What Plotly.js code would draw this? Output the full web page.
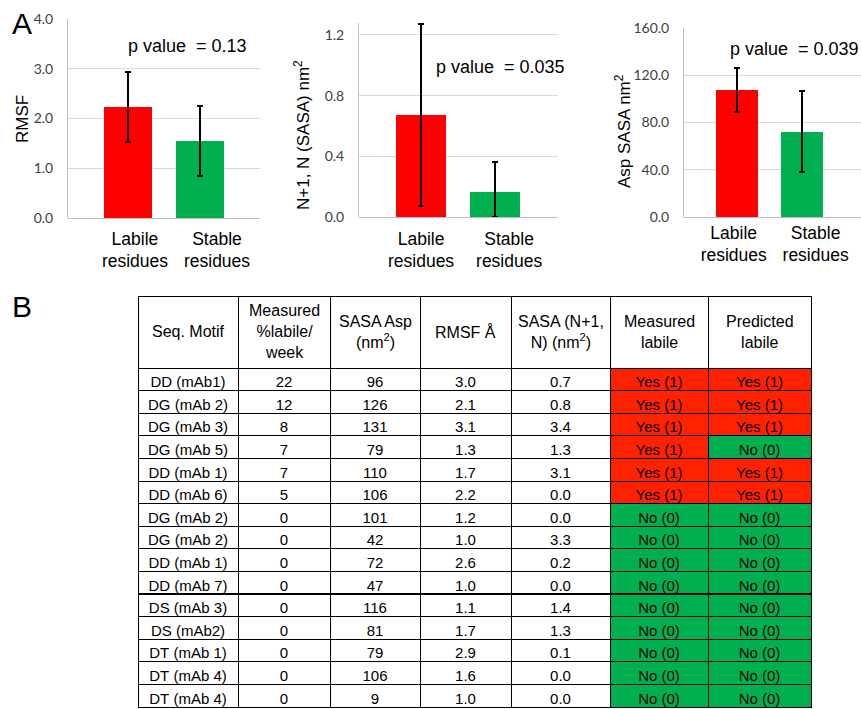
<!DOCTYPE html>
<html><head><meta charset="utf-8">
<script src="https://cdn.plot.ly/plotly-3.0.1.min.js"></script>
<style>html,body{margin:0;padding:0;background:#fff;}#chart{width:861px;height:709px;}</style>
</head><body><div id="chart"></div>
<script>
// ---- Panel A data ----
const groups = ["Labile", "Stable"];
const groupLabels = ["Labile<br>residues", "Stable<br>residues"];
const rmsfMean = [2.23, 1.55];
const rmsfErr = [0.70, 0.70];
const nSasaMean = [0.67, 0.165];
const nSasaErrPlus = [0.60, 0.20];
const nSasaErrMinus = [0.60, 0.165];
const aspSasaMean = [107.5, 72.2];
const aspSasaErr = [19.0, 34.5];
const pValues = ["0.13", "0.035", "0.039"];
const barColors = ["#FF0000", "#00B050"];

// ---- Panel B table data ----
const headers = ["Seq. Motif", "Measured<br>%labile/<br>week", "SASA Asp<br>(nm<sup>2</sup>)", "RMSF Å", "SASA (N+1,<br>N) (nm<sup>2</sup>)", "Measured<br>labile", "Predicted<br>labile"];
const motifs = ["DD (mAb1)", "DG (mAb 2)", "DG (mAb 3)", "DG (mAb 5)", "DD (mAb 1)", "DD (mAb 6)", "DG (mAb 2)", "DG (mAb 2)", "DD (mAb 1)", "DD (mAb 7)", "DS (mAb 3)", "DS (mAb2)", "DT (mAb 1)", "DT (mAb 4)", "DT (mAb 4)"];
const pctLabile = [22, 12, 8, 7, 7, 5, 0, 0, 0, 0, 0, 0, 0, 0, 0];
const sasaAsp = [96, 126, 131, 79, 110, 106, 101, 42, 72, 47, 116, 81, 79, 106, 9];
const rmsfVals = ["3.0", "2.1", "3.1", "1.3", "1.7", "2.2", "1.2", "1.0", "2.6", "1.0", "1.1", "1.7", "2.9", "1.6", "1.0"];
const sasaN = ["0.7", "0.8", "3.4", "1.3", "3.1", "0.0", "0.0", "3.3", "0.2", "0.0", "1.4", "1.3", "0.1", "0.0", "0.0"];
const measuredLabile = [1, 1, 1, 1, 1, 1, 0, 0, 0, 0, 0, 0, 0, 0, 0];
const predictedLabile = [1, 1, 1, 0, 1, 1, 0, 0, 0, 0, 0, 0, 0, 0, 0];

const W = 861, H = 709;
const px = v => v / W;
const py = v => 1 - v / H;

const tickFont = {family: "Lato, 'Open Sans', sans-serif", size: 14, color: "#404040"};
const labFont = {family: "'Liberation Sans', Arial, sans-serif", size: 17.5, color: "#000"};
const titleFont = {family: "'Liberation Sans', Arial, sans-serif", size: 17, color: "#000"};
const pFont = {family: "'Liberation Sans', Arial, sans-serif", size: 18, color: "#000"};

const groupIdx = groups.map((g, i) => i);

function barTrace(xa, ya, y, ePlus, eMinus, width) {
  return {
    type: "bar", x: groupIdx, y: y, xaxis: xa, yaxis: ya, width: width,
    marker: {color: barColors, line: {width: 0}},
    error_y: {type: "data", array: ePlus, arrayminus: eMinus, symmetric: false, color: "#000", thickness: 2, width: 3},
    showlegend: false, hoverinfo: "skip"
  };
}

const nb = s => String(s).replace(/ /g, "\u00A0");
const yn = v => nb(v ? "Yes (1)" : "No (0)");
const fillOf = v => v ? "#FF2200" : "#00B050";
const white = motifs.map(() => "#FFFFFF");

// table geometry (paper pixels)
const tableLeft = 138, tableRight = 811, tableTop = 296, headerH = 72, rowH = 22.6;
const colW = [100, 92, 90, 91, 99, 98, 103];

const traces = [
  barTrace("x", "y", rmsfMean, rmsfErr, rmsfErr, 0.667),
  barTrace("x2", "y2", nSasaMean, nSasaErrPlus, nSasaErrMinus, 0.676),
  barTrace("x3", "y3", aspSasaMean, aspSasaErr, aspSasaErr, 0.66),
  {
    type: "table",
    domain: {x: [px(tableLeft), px(tableRight)], y: [0, py(tableTop)]},
    columnwidth: colW,
    header: {
      values: headers.map(() => ""),
      height: headerH,
      align: "center",
      line: {color: "#000", width: 1},
      fill: {color: "#FFFFFF"},
      font: {family: "'Liberation Sans', Arial, sans-serif", size: 16, color: "#000"}
    },
    cells: {
      values: [motifs.map(nb), pctLabile, sasaAsp, rmsfVals, sasaN, measuredLabile.map(yn), predictedLabile.map(yn)],
      height: rowH,
      align: "center",
      line: {color: "#000", width: 1},
      fill: {color: [white, white, white, white, white, measuredLabile.map(fillOf), predictedLabile.map(fillOf)]},
      font: {family: "'Liberation Sans', Arial, sans-serif", size: 15, color: "#000"}
    }
  }
];

// label offsets (in category units) so the two-line labels sit as in the original
function xax(d, r, standoff, labelPos) {
  return {domain: d, range: r, type: "linear", showgrid: false, zeroline: false, showline: false,
    tickmode: "array", tickvals: labelPos, ticktext: groupLabels, tickfont: labFont, ticks: "", tickangle: 0,
    ticklabelstandoff: standoff, fixedrange: true};
}
function yax(d, r, dt, fmt, anchor) {
  return {domain: d, range: r, dtick: dt, tick0: 0, tickformat: fmt, showgrid: true, gridcolor: "#D9D9D9", gridwidth: 1,
    zeroline: true, zerolinecolor: "#BFBFBF", zerolinewidth: 1,
    showline: true, linecolor: "#BFBFBF", linewidth: 1, tickfont: tickFont, ticks: "", ticklabelstandoff: 11, anchor: anchor, fixedrange: true};
}

// header annotations centred in each table column
const headerAnn = [];
let cx = tableLeft;
headers.forEach((h, i) => {
  headerAnn.push({text: h, x: px(cx + colW[i] / 2), y: py(tableTop + headerH / 2), xref: "paper", yref: "paper",
    xanchor: "center", yanchor: "middle", align: "center", showarrow: false,
    font: {family: "'Liberation Sans', Arial, sans-serif", size: 16, color: "#000"}});
  cx += colW[i];
});

const layout = {
  width: W, height: H, margin: {l: 0, r: 0, t: 0, b: 0},
  paper_bgcolor: "#fff", plot_bgcolor: "rgba(0,0,0,0)",
  bargap: 0,
  xaxis: xax([px(68), px(260)], [-0.833, 1.833], 8, [0.097, 1.236]),
  yaxis: yax([py(218), py(19)], [0, 4], 1, ".1f", "x"),
  xaxis2: Object.assign(xax([px(359), px(558)], [-0.838, 1.85], 9, [0, 1.19]), {anchor: "y2"}),
  yaxis2: yax([py(217), py(22.8)], [0, 1.28], 0.4, ".1f", "x2"),
  xaxis3: Object.assign(xax([px(684), px(861)], [-0.815, 1.908], 3, [-0.05, 1.21]), {anchor: "y3"}),
  yaxis3: yax([py(217), py(28)], [0, 160], 40, ".1f", "x3"),
  annotations: [
    {text: "A", x: px(10), y: py(5), xref: "paper", yref: "paper", xanchor: "left", yanchor: "top", showarrow: false, font: {family: "'Liberation Sans', Arial, sans-serif", size: 30, color: "#000"}},
    {text: "B", x: px(10), y: py(288), xref: "paper", yref: "paper", xanchor: "left", yanchor: "top", showarrow: false, font: {family: "'Liberation Sans', Arial, sans-serif", size: 30, color: "#000"}},
    {text: "p value  = " + pValues[0], x: px(126), y: py(46), xref: "paper", yref: "paper", xanchor: "left", yanchor: "middle", showarrow: false, font: pFont},
    {text: "p value  = " + pValues[1], x: px(434), y: py(67), xref: "paper", yref: "paper", xanchor: "left", yanchor: "middle", showarrow: false, font: pFont},
    {text: "p value  = " + pValues[2], x: px(728), y: py(49), xref: "paper", yref: "paper", xanchor: "left", yanchor: "middle", showarrow: false, font: pFont},
    {text: "RMSF", x: px(23), y: py(119), xref: "paper", yref: "paper", xanchor: "center", yanchor: "middle", textangle: -90, showarrow: false, font: titleFont},
    {text: "N+1, N (SASA) nm<sup>2</sup>", x: px(302), y: py(135), xref: "paper", yref: "paper", xanchor: "center", yanchor: "middle", textangle: -90, showarrow: false, font: titleFont},
    {text: "Asp SASA nm<sup>2</sup>", x: px(623), y: py(131), xref: "paper", yref: "paper", xanchor: "center", yanchor: "middle", textangle: -90, showarrow: false, font: titleFont}
  ].concat(headerAnn)
};

Plotly.newPlot("chart", traces, layout, {displayModeBar: false, staticPlot: true});
</script>
</body></html>
